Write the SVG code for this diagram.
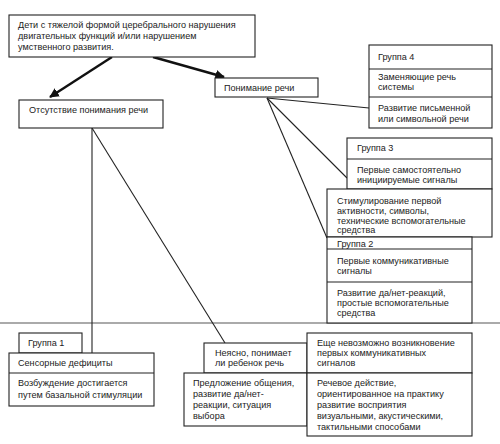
<svg xmlns="http://www.w3.org/2000/svg" width="500" height="444" viewBox="0 0 500 444">
<defs>
<marker id="ah" viewBox="0 0 10 10" refX="9" refY="5" markerWidth="4" markerHeight="4" orient="auto" markerUnits="strokeWidth">
<path d="M0,0 L10,5 L0,10 z" fill="#111"/>
</marker>
<style>
rect{fill:#fff;stroke:#222;stroke-width:1.1}
line.d{stroke:#222;stroke-width:1.1}
text{font-family:"Liberation Sans",Arial,sans-serif;font-size:9.1px;fill:#222}
</style>
</defs>
<rect x="0" y="0" width="500" height="444" style="stroke:none"/>
<line x1="0" y1="323" x2="500" y2="323" stroke="#aaa" stroke-width="2"/>
<g id="connectors">
<line x1="112" y1="57" x2="50" y2="97" stroke="#111" stroke-width="2.4" marker-end="url(#ah)"/>
<line x1="153" y1="57" x2="224" y2="77" stroke="#111" stroke-width="2.4" marker-end="url(#ah)"/>
<line class="d" x1="92" y1="128" x2="92" y2="353"/>
<line class="d" x1="92" y1="128" x2="225" y2="343"/>
<line class="d" x1="267" y1="98" x2="369" y2="108"/>
<line class="d" x1="267" y1="98" x2="347" y2="178"/>
<line class="d" x1="267" y1="98" x2="327" y2="238"/>
</g>
<g id="root">
<rect x="9" y="15" width="246" height="42"/>
<text x="18" y="28">Дети с тяжелой формой церебрального нарушения</text>
<text x="18" y="39">двигательных функций и/или нарушением</text>
<text x="18" y="50">умственного развития.</text>
</g>
<g id="no-understanding">
<rect x="19" y="100" width="144" height="28"/>
<text x="29" y="113">Отсутствие понимания речи</text>
</g>
<g id="understanding">
<rect x="215" y="78" width="103" height="19"/>
<text x="224" y="91">Понимание речи</text>
</g>
<g id="group4">
<rect x="369" y="45" width="123" height="83"/>
<line class="d" x1="369" y1="69" x2="492" y2="69"/>
<line class="d" x1="369" y1="97" x2="492" y2="97"/>
<text x="378" y="60">Группа 4</text>
<text x="378" y="80">Заменяющие речь</text>
<text x="378" y="90">системы</text>
<text x="378" y="111">Развитие письменной</text>
<text x="378" y="122">или символьной речи</text>
</g>
<g id="group3">
<rect x="347" y="138" width="145" height="51"/>
<line class="d" x1="347" y1="159" x2="492" y2="159"/>
<text x="357" y="151">Группа 3</text>
<text x="357" y="173">Первые самостоятельно</text>
<text x="357" y="183">инициируемые сигналы</text>
</g>
<g id="group3-stim">
<rect x="327" y="189" width="165" height="48"/>
<text x="337" y="204">Стимулирование первой</text>
<text x="337" y="214">активности, символы,</text>
<text x="337" y="224">технические вспомогательные</text>
<text x="337" y="233">средства</text>
</g>
<g id="group2">
<rect x="327" y="237" width="145" height="86"/>
<line class="d" x1="327" y1="249" x2="472" y2="249"/>
<line class="d" x1="327" y1="282" x2="472" y2="282"/>
<text x="337" y="247">Группа 2</text>
<text x="337" y="264">Первые коммуникативные</text>
<text x="337" y="274">сигналы</text>
<text x="337" y="296">Развитие да/нет-реакций,</text>
<text x="337" y="306">простые вспомогательные</text>
<text x="337" y="316">средства</text>
</g>
<g id="group1">
<rect x="19" y="333" width="63" height="20"/>
<text x="28" y="346">Группа 1</text>
<rect x="9" y="353" width="145" height="53"/>
<line class="d" x1="9" y1="373" x2="154" y2="373"/>
<text x="18" y="366">Сенсорные дефициты</text>
<text x="18" y="386">Возбуждение достигается</text>
<text x="18" y="398">путем базальной стимуляции</text>
</g>
<g id="unclear">
<rect x="204" y="343" width="103" height="30"/>
<text x="215" y="356">Неясно, понимает</text>
<text x="215" y="366">ли ребенок речь</text>
</g>
<g id="offer">
<rect x="184" y="373" width="123" height="53"/>
<text x="193" y="386">Предложение общения,</text>
<text x="193" y="397">развитие да/нет-</text>
<text x="193" y="408">реакции, ситуация</text>
<text x="193" y="419">выбора</text>
</g>
<g id="not-yet">
<rect x="307" y="333" width="165" height="40"/>
<text x="317" y="346">Еще невозможно возникновение</text>
<text x="317" y="356">первых коммуникативных</text>
<text x="317" y="366">сигналов</text>
</g>
<g id="speech-action">
<rect x="307" y="373" width="165" height="63"/>
<text x="317" y="386">Речевое действие,</text>
<text x="317" y="397">ориентированное на практику</text>
<text x="317" y="408">развитие восприятия</text>
<text x="317" y="419">визуальными, акустическими,</text>
<text x="317" y="430">тактильными способами</text>
</g>
</svg>
